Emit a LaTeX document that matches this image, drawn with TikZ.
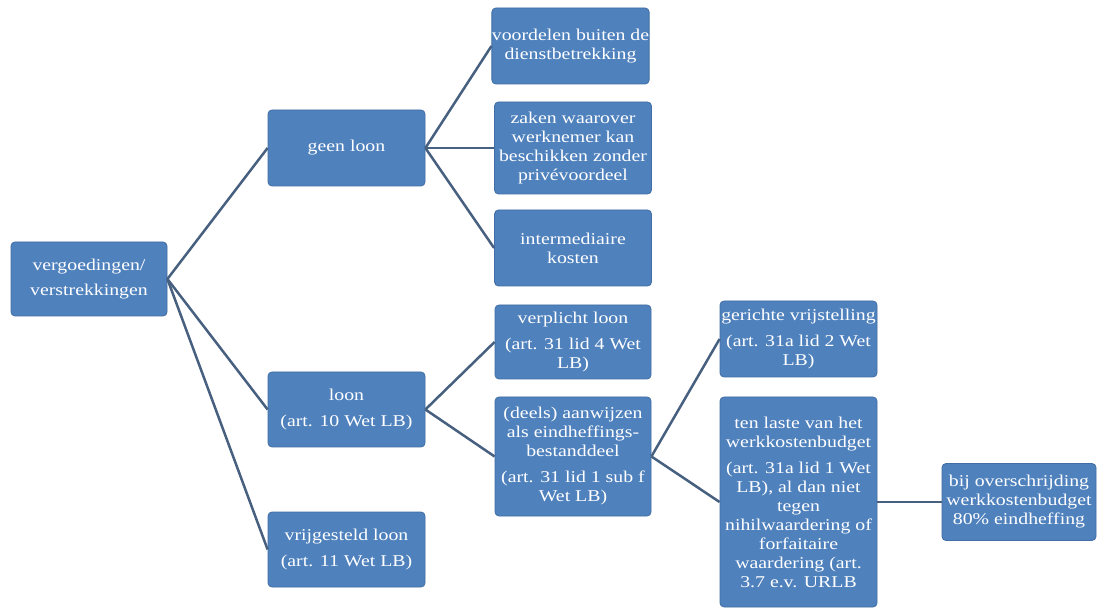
\documentclass[tikz,border=0pt]{standalone}
\usepackage{fontspec}
\setmainfont{Liberation Serif}[FakeStretch=1.2]
\definecolor{boxblue}{RGB}{79,129,189}
\definecolor{boxborder}{RGB}{64,110,165}
\definecolor{linecol}{RGB}{72,96,128}
\begin{document}
\begin{tikzpicture}[x=1pt,y=-1pt,
  box/.style={draw=boxborder, line width=0.8pt, fill=boxblue, rounded corners=4pt,
    text=white, align=center, inner sep=0pt, font=\fontsize{16.5}{19}\selectfont},
  sz/.style n args={2}{minimum width=#1pt, minimum height=#2pt},
  link/.style={draw=linecol, line width=2.5pt}]
\useasboundingbox (0,0) rectangle (1098,609);
\fill[white] (0,0) rectangle (1098,609);
% nodes
\node[box, sz={156}{74}] (root) at (89,279) {vergoedingen/\\[6pt]verstrekkingen};
\node[box, sz={157}{76}] (geen) at (346.5,148) {geen loon};
\node[box, sz={157}{75}] (loon) at (346.5,409.5) {loon\\[7pt](art. 10 Wet LB)};
\node[box, sz={157}{75}] (vrij) at (346.5,549.5) {vrijgesteld loon\\[7pt](art. 11 Wet LB)};
\node[box, sz={157}{76}] (voor) at (570.5,46) {voordelen buiten de\\dienstbetrekking};
\node[box, sz={157}{92}] (zaken) at (573,148) {zaken waarover\\werknemer kan\\beschikken zonder\\privévoordeel};
\node[box, sz={157}{76}] (inter) at (573,248) {intermediaire\\kosten};
\node[box, sz={156}{74}] (verpl) at (573,342) {verplicht loon\\[7pt](art. 31 lid 4 Wet\\LB)};
\node[box, sz={156}{119}] (deels) at (573,456.5) {(deels) aanwijzen\\als eindheffings-\\bestanddeel\\[7pt](art. 31 lid 1 sub f\\Wet LB)};
\node[box, sz={157}{76}] (gericht) at (798.5,339) {gerichte vrijstelling\\[7pt](art. 31a lid 2 Wet\\LB)};
\node[box, sz={157}{210}] (laste) at (798.5,502) {ten laste van het\\werkkostenbudget\\[7pt](art. 31a lid 1 Wet\\LB), al dan niet\\tegen\\nihilwaardering of\\forfaitaire\\waardering (art.\\3.7 e.v. URLB};
\node[box, sz={154}{77}] (bij) at (1019,502) {bij overschrijding\\werkkostenbudget\\80\% eindheffing};
% connectors
\draw[link] (root.east) -- (geen.west);
\draw[link] (root.east) -- (loon.west);
\draw[link] (root.east) -- (vrij.west);
\draw[link] (geen.east) -- (voor.west);
\draw[link] (geen.east) -- (zaken.west);
\draw[link] (geen.east) -- (inter.west);
\draw[link] (loon.east) -- (verpl.west);
\draw[link] (loon.east) -- (deels.west);
\draw[link] (deels.east) -- (gericht.west);
\draw[link] (deels.east) -- (laste.west);
\draw[link] (laste.east) -- (bij.west);
\end{tikzpicture}
\end{document}
